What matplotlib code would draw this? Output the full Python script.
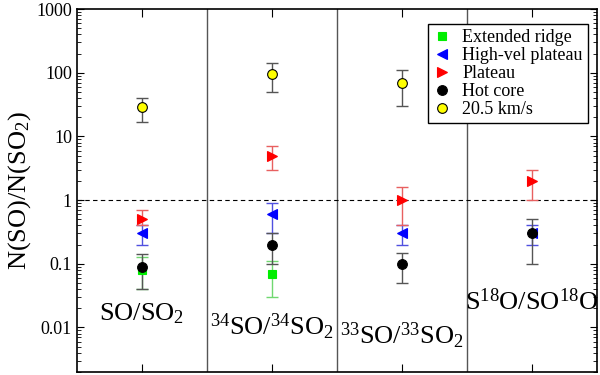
import numpy as np
import matplotlib
matplotlib.use('Agg')
import matplotlib.pyplot as plt

plt.rcParams['font.family'] = ['Liberation Serif', 'DejaVu Serif']
plt.rcParams['mathtext.fontset'] = 'custom'
plt.rcParams['mathtext.rm'] = 'Liberation Serif'
plt.rcParams['mathtext.it'] = 'Liberation Serif:italic'
plt.rcParams['mathtext.bf'] = 'Liberation Serif:bold'

nan = np.nan

## data (one column per isotopologue pair)
pairs = ['SO/SO$_2$', '$^{34}$SO/$^{34}$SO$_2$', '$^{33}$SO/$^{33}$SO$_2$', 'S$^{18}$O/SO$^{18}$O']
pair_label_y = [0.013, 0.0075, 0.0054, 0.019]

ridge = [0.08, 0.07, nan, nan]
ridge_lo = [0.04, 0.03, nan, nan]
ridge_hi = [0.13, 0.11, nan, nan]

highvel = [0.3, 0.6, 0.3, 0.3]
highvel_lo = [0.2, 0.3, 0.2, 0.2]
highvel_hi = [0.4, 0.9, 0.4, 0.4]

plateau = [0.5, 5.0, 1.0, 2.0]
plateau_lo = [0.4, 3.0, 0.4, 1.0]
plateau_hi = [0.7, 7.0, 1.6, 3.0]

hotcore = [0.09, 0.2, 0.1, 0.3]
hotcore_lo = [0.04, 0.1, 0.05, 0.1]
hotcore_hi = [0.14, 0.3, 0.15, 0.5]

v205 = [29, 95, 70, nan]
v205_lo = [17, 50, 30, nan]
v205_hi = [40, 140, 110, nan]

series = [
    # label, values, lo, hi, marker, face, edge, errcolor, size
    ('Extended ridge', ridge, ridge_lo, ridge_hi, 's', '#00ee00', '#00ee00', '#70d870', 6),
    ('High-vel plateau', highvel, highvel_lo, highvel_hi, '<', '#0000ff', '#0000ff', '#5050e0', 7.5),
    ('Plateau', plateau, plateau_lo, plateau_hi, '>', '#ff0000', '#ff0000', '#e86060', 7.5),
    ('Hot core', hotcore, hotcore_lo, hotcore_hi, 'o', 'black', 'black', '#555555', 7),
    ('20.5 km/s', v205, v205_lo, v205_hi, 'o', '#ffff00', 'black', '#555555', 7),
]

x = np.arange(len(pairs)) + 0.5

fig = plt.figure(figsize=[6, 3.75], dpi=100)
ax = fig.add_axes([0.128, 0.008, 0.867, 0.968])

for label, vals, lo, hi, mk, fc, ec, errc, ms in series:
    vals = np.array(vals, dtype=float)
    yerr = np.array([vals - np.array(lo, dtype=float), np.array(hi, dtype=float) - vals])
    ax.errorbar(x, vals, yerr=yerr, fmt='none', ecolor=errc, elinewidth=1,
                capsize=4, capthick=1, zorder=2)
    ax.plot(x, vals, ls='none', marker=mk, ms=ms, mfc=fc, mec=ec, mew=0.8,
            label=label, zorder=3)

for sep in [1, 2, 3]:
    ax.axvline(sep, color='#555555', lw=1, zorder=1)
ax.axhline(1, color='black', lw=0.8, ls=(0, (4, 3)), zorder=1)

for xi, name, yl in zip(x, pairs, pair_label_y):
    ax.text(xi, yl, name, ha='center', va='baseline', fontsize=19)

ax.set_yscale('log')
ax.set_ylim(0.002, 1000)
ax.set_xlim(0, 4)
ax.set_yticks([0.01, 0.1, 1, 10, 100, 1000])
ax.set_yticklabels(['0.01', '0.1', '1', '10', '100', '1000'])
ax.set_xticks(x)
ax.set_xticklabels([])
ax.tick_params(axis='both', which='both', direction='in', top=True, right=True, labelsize=13)
ax.tick_params(axis='y', which='major', length=5)
ax.tick_params(axis='y', which='minor', length=3)
ax.tick_params(axis='x', which='major', length=6)
for s in ax.spines.values():
    s.set_linewidth(1.2)

ax.set_ylabel('N(SO)/N(SO$_2$)', fontsize=19, labelpad=2)

ax.legend(loc='upper right', bbox_to_anchor=(0.983, 0.959), borderaxespad=0,
          fontsize=13, frameon=True, fancybox=False, edgecolor='black',
          framealpha=1, handlelength=1, handletextpad=0.6, labelspacing=0.05,
          borderpad=0.3, numpoints=1)

plt.savefig('out.png', dpi=100)
